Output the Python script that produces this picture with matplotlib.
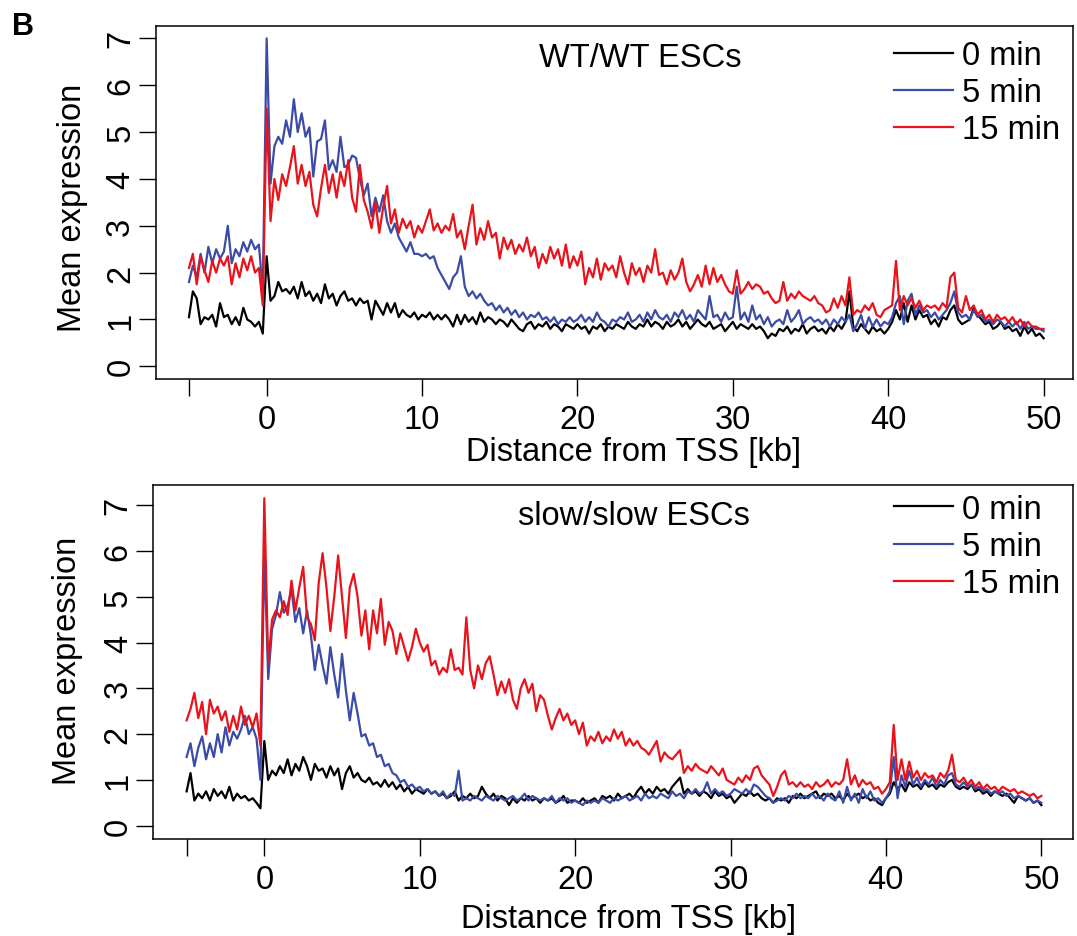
import matplotlib
matplotlib.use("Agg")
import matplotlib.pyplot as plt
import numpy as np

plt.rcParams['font.family'] = ['Liberation Sans', 'DejaVu Sans']

# bins along the gene body, 0.25 kb wide, from -5 kb to +50 kb around the TSS
distance_kb = np.arange(-5, 50.001, 0.25)

time_labels = ["0 min", "5 min", "15 min"]
line_colors = ["black", "#3B4BA6", "#E8131B"]
x_ticks = [-5, 0, 10, 20, 30, 40, 50]
x_tick_labels = ["", "0", "10", "20", "30", "40", "50"]
y_ticks = [0, 1, 2, 3, 4, 5, 6, 7]

# ---- WT/WT ESCs (one row = 5 kb) ----
wt_0min = [
    1.05, 1.6, 1.45, 0.9, 1.05, 1.0, 1.1, 0.85, 1.35, 1.05, 1.1, 0.9, 1.05, 0.88, 1.25, 1.0, 0.95, 0.85, 0.95, 0.7,
    2.35, 1.4, 1.5, 1.8, 1.6, 1.65, 1.55, 1.7, 1.45, 1.8, 1.5, 1.6, 1.4, 1.55, 1.35, 1.75, 1.45, 1.55, 1.3, 1.5,
    1.6, 1.4, 1.45, 1.3, 1.45, 1.35, 1.4, 1.0, 1.4, 1.25, 1.1, 1.35, 1.15, 1.35, 1.05, 1.2, 1.1, 1.05, 1.15, 1.0,
    1.1, 1.05, 1.15, 1.0, 1.1, 1.0, 1.1, 1.0, 0.85, 1.1, 0.9, 1.1, 0.95, 1.05, 0.9, 1.15, 0.95, 1.05, 1.0, 0.9,
    1.0, 0.95, 0.85, 1.0, 0.9, 0.8, 0.75, 0.9, 0.95, 0.8, 0.9, 0.85, 0.95, 0.8, 0.9, 0.85, 0.75, 0.9, 0.85, 0.8,
    0.9, 0.8, 0.85, 0.7, 0.85, 0.8, 0.9, 0.75, 0.85, 0.8, 0.9, 0.85, 0.8, 0.95, 0.85, 0.8, 0.9, 0.85, 1.0, 0.85,
    0.95, 0.9, 0.8, 0.95, 0.85, 0.9, 1.0, 0.85, 0.95, 0.8, 0.9, 1.0, 0.9, 0.85, 0.95, 0.8, 0.85, 0.9, 0.75, 0.85,
    0.95, 0.8, 0.9, 0.85, 0.8, 0.9, 0.8, 0.85, 0.75, 0.6, 0.7, 0.65, 0.8, 0.75, 0.85, 0.7, 0.8, 0.75, 0.9, 0.7,
    0.8, 0.85, 0.75, 0.8, 0.7, 0.85, 0.75, 0.9, 0.8, 0.95, 1.6, 0.85, 0.75, 0.9, 0.8, 0.7, 0.85, 0.75, 0.8, 0.7,
    0.8, 0.95, 1.2, 1.0, 1.35, 0.95, 1.3, 1.0, 1.2, 1.05, 1.1, 0.9, 1.0, 0.85, 1.05, 1.0, 1.2, 1.3, 1.0, 0.9,
    0.95, 1.0, 1.25, 1.1, 1.0, 0.9, 0.95, 0.8, 0.85, 0.95, 0.8, 0.85, 0.75, 0.8, 0.65, 0.85, 0.7, 0.8, 0.65, 0.7,
    0.6,
]
wt_5min = [
    1.8, 2.15, 1.9, 2.4, 2.0, 2.55, 2.2, 2.5, 2.3, 2.45, 3.0, 2.2, 2.5, 2.35, 2.65, 2.45, 2.7, 2.5, 2.6, 1.6,
    7.0, 3.9, 4.7, 4.9, 4.75, 5.25, 4.9, 5.7, 5.0, 5.4, 4.9, 5.1, 4.05, 4.8, 4.85, 5.25, 4.2, 4.4, 4.15, 4.9,
    4.25, 4.3, 4.5, 4.45, 4.0, 3.65, 3.9, 3.2, 3.6, 3.3, 3.65, 3.1, 2.85, 3.05, 2.75, 2.6, 2.45, 2.65, 2.4, 2.4,
    2.35, 2.4, 2.3, 2.35, 2.1, 1.95, 1.8, 1.65, 1.9, 2.0, 2.35, 1.7, 1.5, 1.6, 1.45, 1.55, 1.4, 1.3, 1.35, 1.2,
    1.3, 1.15, 1.25, 1.1, 1.2, 1.05, 1.15, 1.0, 1.1, 1.05, 1.15, 1.0, 1.05, 0.95, 1.05, 0.9, 1.0, 0.95, 1.05, 0.95,
    1.0, 1.1, 0.95, 1.05, 0.95, 1.15, 1.0, 0.95, 0.85, 1.0, 0.95, 1.05, 1.0, 1.15, 0.95, 1.0, 1.1, 0.95, 1.15, 1.0,
    1.2, 1.05, 1.0, 1.1, 0.95, 1.15, 1.05, 1.2, 1.0, 1.1, 0.95, 1.2, 1.1, 1.0, 1.5, 1.05, 1.1, 0.95, 1.15, 1.0,
    1.05, 1.7, 1.0, 1.15, 0.95, 1.3, 1.0, 1.1, 0.9, 1.05, 0.85, 0.95, 1.0, 0.9, 1.2, 0.95, 1.05, 1.2, 0.9, 1.0,
    1.05, 0.95, 1.0, 0.9, 1.0, 0.85, 1.0, 0.9, 1.05, 0.95, 1.1, 0.75, 0.9, 1.1, 0.8, 1.05, 0.85, 1.0, 0.85, 0.95,
    0.9, 1.05, 1.35, 1.5, 0.9, 1.4, 1.55, 1.1, 1.3, 1.15, 1.2, 1.05, 1.15, 1.0, 1.1, 1.2, 1.35, 1.6, 1.15, 1.05,
    1.1, 1.0, 1.2, 1.05, 1.1, 0.95, 1.0, 0.9, 1.0, 0.95, 0.85, 0.95, 0.85, 0.95, 0.8, 0.95, 0.8, 0.85, 0.8, 0.8,
    0.75,
]
wt_15min = [
    2.1, 2.4, 1.75, 2.35, 2.05, 1.8, 2.25, 2.0, 2.3, 2.15, 2.35, 1.75, 2.2, 1.9, 2.3, 2.05, 2.35, 2.0, 2.1, 1.3,
    5.5, 3.1, 4.0, 3.55, 4.1, 3.85, 4.25, 4.7, 3.9, 4.3, 3.85, 4.15, 3.45, 3.2, 3.8, 4.3, 3.7, 4.1, 3.6, 4.15,
    3.85, 4.4, 3.6, 3.3, 4.3, 3.55, 3.3, 2.95, 3.5, 2.85, 3.4, 3.85, 3.05, 3.35, 2.85, 3.15, 2.95, 3.1, 2.75, 3.0,
    2.85, 3.1, 3.35, 2.9, 3.05, 2.85, 3.0, 2.9, 3.25, 2.75, 2.9, 2.5, 3.0, 3.45, 2.6, 2.95, 2.7, 3.1, 2.75, 2.85,
    2.3, 2.75, 2.5, 2.7, 2.4, 2.6, 2.45, 2.75, 2.35, 2.55, 2.1, 2.4, 2.2, 2.55, 2.3, 2.5, 2.15, 2.6, 2.1, 2.35,
    2.15, 2.45, 1.75, 2.1, 1.9, 2.3, 1.85, 2.2, 2.05, 2.15, 1.9, 2.35, 2.0, 1.75, 2.2, 1.95, 2.1, 1.8, 2.15, 2.0,
    2.5, 1.95, 2.0, 1.75, 2.05, 1.85, 2.0, 2.3, 1.8, 1.6, 1.75, 1.95, 1.7, 2.15, 1.75, 2.1, 1.8, 1.95, 1.75, 1.6,
    1.55, 2.05, 1.55, 1.65, 1.8, 1.65, 1.75, 1.7, 1.55, 1.6, 1.45, 1.35, 1.4, 1.8, 1.4, 1.55, 1.45, 1.6, 1.5, 1.45,
    1.4, 1.5, 1.35, 1.3, 1.15, 1.2, 1.45, 1.25, 1.5, 1.3, 1.9, 1.1, 1.2, 1.15, 1.3, 1.2, 1.35, 1.1, 1.05, 1.2,
    1.25, 1.3, 2.25, 1.2, 1.5, 1.3, 1.45, 1.25, 1.4, 1.2, 1.3, 1.25, 1.3, 1.2, 1.35, 1.25, 1.9, 2.0, 1.25, 1.15,
    1.5, 1.2, 1.3, 1.1, 1.2, 1.0, 1.1, 0.95, 1.1, 1.0, 1.05, 0.95, 1.05, 0.9, 1.0, 0.85, 0.95, 0.85, 0.85, 0.8,
    0.8,
]

# ---- slow/slow ESCs ----
slow_0min = [
    0.75, 1.15, 0.55, 0.7, 0.6, 0.75, 0.55, 0.8, 0.65, 0.75, 0.6, 0.85, 0.55, 0.7, 0.6, 0.65, 0.55, 0.6, 0.5, 0.38,
    1.85, 1.0, 1.2, 1.1, 1.3, 1.15, 1.45, 1.1, 1.35, 1.2, 1.5, 1.3, 1.0, 1.35, 1.2, 1.25, 1.05, 1.3, 1.1, 1.25,
    0.8, 1.15, 1.3, 1.05, 1.15, 1.0, 0.95, 1.05, 0.9, 0.95, 0.85, 1.0, 0.85, 0.95, 0.8, 0.9, 0.75, 0.85, 0.7, 0.8,
    0.75, 0.7, 0.8, 0.7, 0.75, 0.65, 0.7, 0.6, 0.65, 0.75, 0.55, 0.65, 0.6, 0.7, 0.6, 0.65, 0.85, 0.7, 0.6, 0.7,
    0.55, 0.65, 0.6, 0.45, 0.6, 0.5, 0.6, 0.55, 0.65, 0.55, 0.6, 0.5, 0.6, 0.55, 0.6, 0.5, 0.55, 0.65, 0.5, 0.55,
    0.55, 0.5, 0.6, 0.5, 0.55, 0.6, 0.5, 0.65, 0.6, 0.65, 0.55, 0.7, 0.6, 0.65, 0.7, 0.6, 0.75, 0.85, 0.7, 0.8,
    0.7, 0.85, 0.75, 0.8, 0.7, 0.85, 0.95, 1.05, 0.7, 0.8, 0.7, 0.75, 0.65, 0.75, 0.7, 0.6, 0.75, 0.65, 0.7, 0.6,
    0.65, 0.5, 0.6, 0.7, 0.65, 0.75, 0.65, 0.7, 0.6, 0.55, 0.6, 0.5, 0.6, 0.55, 0.6, 0.5, 0.65, 0.6, 0.7, 0.6,
    0.65, 0.7, 0.75, 0.6, 0.7, 0.65, 0.7, 0.6, 0.65, 0.55, 0.7, 0.6, 0.65, 0.7, 0.6, 0.65, 0.55, 0.6, 0.5, 0.45,
    0.6, 0.7, 0.95, 0.8, 0.9, 0.75, 0.95, 0.85, 0.9, 0.8, 0.95, 0.85, 0.9, 0.8, 0.9, 0.85, 0.95, 1.0, 0.85, 0.8,
    0.85, 0.8, 0.9, 0.75, 0.8, 0.7, 0.75, 0.65, 0.75, 0.7, 0.65, 0.7, 0.6, 0.5, 0.65, 0.6, 0.55, 0.6, 0.5, 0.55,
    0.45,
]
slow_5min = [
    1.5, 1.8, 1.3, 1.7, 1.95, 1.45, 1.8, 1.5, 2.0, 1.6, 2.15, 1.75, 2.05, 1.9, 2.1, 2.4, 2.0, 2.15, 1.9, 1.0,
    6.0, 3.2, 4.3, 4.6, 5.1, 4.65, 4.8, 5.15, 4.45, 4.75, 4.2, 4.7, 4.15, 3.4, 3.95, 3.5, 3.1, 3.9, 3.3, 2.8,
    3.75, 2.95, 2.3, 2.9, 2.45, 1.95, 2.0, 1.75, 1.8, 1.5, 1.55, 1.3, 1.35, 1.15, 1.1, 0.95, 1.0, 0.85, 0.9, 0.8,
    0.85, 0.75, 0.8, 0.7, 0.75, 0.65, 0.75, 0.6, 0.7, 0.65, 1.2, 0.55, 0.6, 0.55, 0.65, 0.6, 0.55, 0.65, 0.6, 0.55,
    0.65, 0.6, 0.55, 0.6, 0.65, 0.55, 0.6, 0.7, 0.55, 0.65, 0.6, 0.55, 0.6, 0.55, 0.65, 0.5, 0.6, 0.55, 0.6, 0.5,
    0.55, 0.5, 0.45, 0.55, 0.5, 0.55, 0.5, 0.6, 0.55, 0.5, 0.6, 0.55, 0.6, 0.65, 0.55, 0.6, 0.65, 0.55, 0.7, 0.6,
    0.65, 0.6, 0.7, 0.65, 0.6, 0.75, 0.65, 0.7, 0.6, 0.75, 0.7, 0.8, 0.7, 0.75, 0.95, 0.7, 0.8, 0.7, 0.75, 0.65,
    0.7, 0.8, 0.75, 0.7, 0.8, 0.7, 0.9, 0.85, 0.75, 0.65, 0.6, 0.5, 0.55, 0.6, 0.55, 0.65, 0.6, 0.7, 0.6, 0.65,
    0.6, 0.7, 0.6, 0.65, 0.55, 0.7, 0.6, 0.55, 0.75, 0.5, 0.85, 0.55, 0.7, 0.5, 0.8, 0.6, 0.75, 0.55, 0.6, 0.5,
    0.6, 0.75, 1.5, 0.6, 1.1, 0.85, 1.2, 0.9, 1.05, 0.85, 1.0, 0.9, 1.05, 0.85, 1.0, 0.9, 1.1, 1.15, 0.9, 0.85,
    0.95, 0.85, 0.9, 0.8, 0.85, 0.75, 0.8, 0.7, 0.75, 0.7, 0.75, 0.65, 0.7, 0.6, 0.65, 0.6, 0.55, 0.6, 0.5, 0.55,
    0.5,
]
slow_15min = [
    2.3, 2.55, 2.9, 2.35, 2.7, 2.0, 2.75, 2.45, 2.6, 2.3, 2.5, 2.05, 2.4, 2.1, 2.6, 2.2, 2.4, 2.15, 2.45, 1.75,
    7.15, 3.55, 4.5, 4.7, 4.55, 4.9, 4.6, 5.35, 4.7, 5.2, 5.65, 4.55, 4.4, 4.05, 5.3, 5.95, 5.2, 4.25, 5.0, 5.9,
    5.0, 4.1, 5.2, 5.5, 5.0, 4.15, 4.7, 3.85, 4.7, 4.2, 4.95, 3.95, 4.45, 4.25, 3.75, 4.2, 3.9, 3.6, 3.9, 4.3,
    4.0, 3.8, 3.95, 3.5, 3.6, 3.3, 3.45, 3.35, 3.85, 3.4, 3.45, 3.3, 4.55, 3.4, 3.0, 3.5, 3.2, 3.55, 3.7, 3.3,
    2.85, 3.15, 2.9, 3.2, 2.75, 2.55, 3.0, 3.2, 2.9, 3.1, 2.5, 2.85, 2.75, 2.4, 2.1, 2.35, 2.55, 2.3, 2.45, 2.2,
    2.3, 2.0, 2.25, 1.75, 1.95, 1.85, 2.05, 1.8, 1.95, 1.85, 2.1, 1.9, 2.05, 1.75, 1.9, 1.75, 1.85, 1.7, 1.65, 1.55,
    1.7, 1.85, 1.4, 1.6, 1.5, 1.45, 1.55, 1.65, 1.15, 1.3, 1.2, 1.35, 1.25, 1.2, 1.15, 1.3, 1.2, 1.1, 1.25, 1.0,
    0.95, 0.9, 1.05, 0.95, 1.1, 1.0, 1.25, 1.3, 1.1, 1.0, 0.9, 0.65, 0.85, 1.1, 1.2, 0.9, 0.95, 0.85, 0.95, 0.85,
    0.9, 0.8, 0.95, 0.85, 0.9, 1.0, 0.85, 0.95, 0.9, 1.0, 1.45, 0.9, 1.1, 0.85, 1.0, 0.9, 0.95, 0.8, 0.85, 0.7,
    0.8, 0.95, 2.2, 1.0, 1.45, 1.0, 1.4, 1.05, 1.2, 1.0, 1.15, 1.05, 1.1, 0.95, 1.15, 1.05, 1.2, 1.55, 1.0, 0.95,
    1.05, 0.9, 1.0, 0.85, 0.95, 0.8, 0.9, 0.8, 0.85, 0.75, 0.85, 0.8, 0.75, 0.8, 0.7, 0.75, 0.7, 0.65, 0.7, 0.6,
    0.65,
]

FS = 23.5


def draw_panel(ax, series, title, title_xy, legend_xy, xlim, ylim, xlabel_xy, ylabel_xy):
    for vals, lab, col in zip(series, time_labels, line_colors):
        ax.plot(distance_kb, vals, color=col, lw=1.6, label=lab)
    ax.set_xlim(*xlim)
    ax.set_ylim(*ylim)
    ax.set_xticks(x_ticks)
    ax.set_xticklabels(x_tick_labels)
    ax.set_yticks(y_ticks)
    ax.set_yticklabels([str(v) for v in y_ticks], rotation=90, va="center")
    ax.tick_params(direction="out", length=12, width=1.0, labelsize=FS)
    ax.tick_params(axis="x", pad=6)
    ax.tick_params(axis="y", pad=2)
    for sp in ax.spines.values():
        sp.set_linewidth(1.1)
    ax.set_xlabel("Distance from TSS [kb]", fontsize=FS)
    ax.xaxis.set_label_coords(*xlabel_xy)
    ax.set_ylabel("Mean expression", fontsize=FS)
    ax.yaxis.set_label_coords(*ylabel_xy)
    fig.text(title_xy[0], title_xy[1], title, fontsize=FS, ha="center", va="baseline")
    ax.legend(loc="upper left", bbox_to_anchor=legend_xy, bbox_transform=fig.transFigure,
              frameon=False, fontsize=FS, handlelength=1.8, handletextpad=0.3,
              labelspacing=0.19, borderpad=0, borderaxespad=0)


fig = plt.figure(figsize=(10.77, 9.37), dpi=100)
ax_top = fig.add_axes([0.14457, 0.59445, 0.85200, 0.37705])
ax_bot = fig.add_axes([0.14225, 0.10352, 0.85450, 0.37812])

draw_panel(ax_top, [wt_0min, wt_5min, wt_15min], "WT/WT ESCs",
           (0.5949, 0.9288), (0.8299, 0.9562),
           (-7.14, 51.91), (-0.27, 7.27), (0.521, -0.161), (-0.074, 0.487))
draw_panel(ax_bot, [slow_0min, slow_5min, slow_15min], "slow/slow ESCs",
           (0.5884, 0.4397), (0.8299, 0.4720),
           (-7.15, 52.07), (-0.29, 7.445), (0.517, -0.181), (-0.0767, 0.506))

fig.text(12.5 / 1077, 1 - 35 / 937, "B", fontsize=22, fontweight="bold", va="baseline")

fig.savefig("out.png", dpi=100)
